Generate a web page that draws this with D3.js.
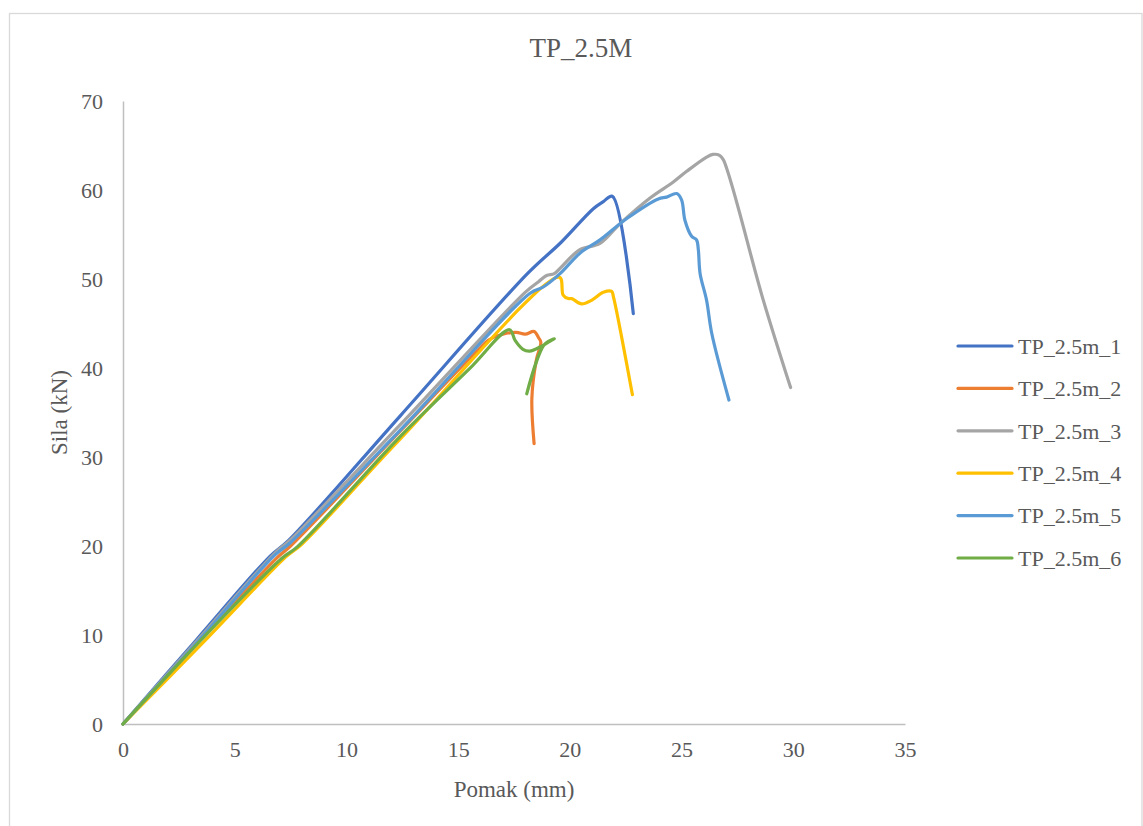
<!DOCTYPE html>
<html>
<head>
<meta charset="utf-8">
<script src="https://cdn.jsdelivr.net/npm/d3@7/dist/d3.min.js"></script>
<style>
  html, body { margin: 0; padding: 0; background: #fff; }
  svg { display: block; }
</style>
</head>
<body>
<script>
// ---- Data (displacement mm, force kN) ----
const seriesNames = ["TP_2.5m_1", "TP_2.5m_2", "TP_2.5m_3", "TP_2.5m_4", "TP_2.5m_5", "TP_2.5m_6"];
const seriesColors = ["#4472C4", "#ED7D31", "#A5A5A5", "#FFC000", "#5B9BD5", "#70AD47"];

const tp1 = [[0,0],[3.3,9.5],[6.6,18.9],[7.4,20.6],[12.4,34.6],[18.1,50.6],[19.6,54.1],[21.05,57.9],[21.5,58.7],[21.9,59.3],[22.84,46.1]];
const tp2 = [[0,0],[3.4,9.3],[6.9,18.7],[7.5,20.0],[12.4,32.9],[15.8,41.8],[16.4,43.2],[17.0,43.8],[17.6,44.0],[18.0,43.8],[18.4,44.1],[18.6,43.4],[18.7,42.9],[18.5,40.9],[18.3,36.6],[18.4,31.5]];
const tp3 = [[0,0],[3.4,9.6],[6.8,19.2],[7.5,20.7],[12.4,33.6],[18.0,48.5],[18.6,49.7],[18.96,50.4],[19.3,50.6],[19.56,51.2],[20.45,53.3],[21.35,54.0],[22.24,56.2],[23.59,59.1],[24.63,60.9],[25.23,62.1],[26.12,63.7],[26.4,64.0],[26.7,63.9],[26.87,63.4],[28.66,47.6],[29.88,37.8]];
const tp4 = [[0,0],[3.6,9.2],[7.3,18.8],[8.0,20.2],[12.4,32.0],[19.53,50.2],[19.7,48.2],[19.93,47.8],[20.08,47.8],[20.53,47.2],[20.97,47.6],[21.5,48.5],[21.87,48.6],[21.95,48.0],[22.8,37.0]];
const tp5 = [[0,0],[3.4,9.4],[6.8,19.0],[7.5,20.4],[12.4,33.0],[18.22,48.4],[18.81,49.1],[19.56,50.6],[20.45,52.9],[21.35,54.4],[22.55,56.8],[23.96,59.0],[24.33,59.2],[24.78,59.6],[25.0,58.9],[25.15,56.6],[25.45,54.8],[25.67,54.4],[25.75,53.3],[25.83,50.6],[26.12,47.6],[26.35,43.9],[27.12,36.4]];
const tp6 = [[0,0],[3.4,9.2],[7.1,18.6],[7.8,19.9],[12.4,32.3],[15.5,39.9],[17.3,44.3],[17.55,43.1],[17.9,42.1],[18.2,41.9],[18.7,42.4],[19.1,43.0],[19.3,43.3],[18.85,42.6],[18.07,37.1]];

const xTicks = [0, 5, 10, 15, 20, 25, 30, 35];
const yTicks = [0, 10, 20, 30, 40, 50, 60, 70];

const chartTitle = "TP_2.5M";
const xTitle = "Pomak (mm)";
const yTitle = "Sila (kN)";

const seriesData = [tp1, tp2, tp3, tp4, tp5, tp6];

// ---- Layout ----
const W = 1143, H = 826;
const plot = { left: 123, right: 905, top: 101, bottom: 724 };
const font = "'Liberation Serif', 'Times New Roman', serif";
const textColor = "#595959";

const svg = d3.select("body").append("svg").attr("width", W).attr("height", H);

svg.append("rect").attr("width", W).attr("height", H).attr("fill", "#fff");
// chart area border
svg.append("rect")
  .attr("x", 9.5).attr("y", 13.5)
  .attr("width", 1132.5).attr("height", 900)
  .attr("fill", "none").attr("stroke", "#D9D9D9").attr("stroke-width", 1.3);

const x = d3.scaleLinear().domain([0, 35]).range([plot.left, plot.right]);
const y = d3.scaleLinear().domain([0, 70]).range([plot.bottom, plot.top]);

// axes
const xAxis = d3.axisBottom(x).tickValues(xTicks).tickSize(0).tickPadding(17).tickFormat(d3.format("d"));
const yAxis = d3.axisLeft(y).tickValues(yTicks).tickSize(0).tickPadding(20).tickFormat(d3.format("d"));

const gx = svg.append("g").attr("transform", `translate(0,${plot.bottom})`).call(xAxis);
const gy = svg.append("g").attr("transform", `translate(${plot.left},0)`).call(yAxis);
[gx, gy].forEach(g => {
  g.select(".domain").attr("stroke", "#BFBFBF").attr("stroke-width", 1.5);
  g.selectAll("text").attr("font-family", font).attr("font-size", 22).attr("fill", textColor);
});

// lines
const line = d3.line().x(d => x(d[0])).y(d => y(d[1])).curve(d3.curveCatmullRom.alpha(0.5));
svg.append("g").selectAll("path").data(seriesData).join("path")
  .attr("d", d => line(d))
  .attr("fill", "none")
  .attr("stroke", (d, i) => seriesColors[i])
  .attr("stroke-width", 3.2)
  .attr("stroke-linejoin", "round")
  .attr("stroke-linecap", "round");

// title
svg.append("text").attr("x", 581).attr("y", 57)
  .attr("text-anchor", "middle").attr("font-family", font).attr("font-size", 27)
  .attr("fill", textColor).text(chartTitle);

// axis titles
svg.append("text").attr("x", (plot.left + plot.right) / 2).attr("y", 797)
  .attr("text-anchor", "middle").attr("font-family", font).attr("font-size", 23)
  .attr("fill", textColor).text(xTitle);
svg.append("text")
  .attr("transform", `translate(67,${(plot.top + plot.bottom) / 2}) rotate(-90)`)
  .attr("text-anchor", "middle").attr("font-family", font).attr("font-size", 23)
  .attr("fill", textColor).text(yTitle);

// legend
const leg = svg.append("g");
const legItems = leg.selectAll("g").data(seriesNames).join("g")
  .attr("transform", (d, i) => `translate(958,${346 + i * 42.4})`);
legItems.append("line").attr("x1", 0).attr("x2", 54).attr("y1", 0).attr("y2", 0)
  .attr("stroke", (d, i) => seriesColors[i]).attr("stroke-width", 3.2).attr("stroke-linecap", "round");
legItems.append("text").attr("x", 60).attr("y", 0).attr("dy", "0.35em")
  .attr("font-family", font).attr("font-size", 22).attr("fill", textColor).text(d => d);
</script>
</body>
</html>
